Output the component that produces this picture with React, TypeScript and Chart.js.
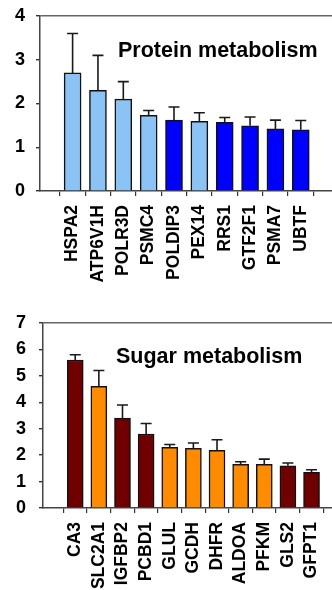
import React, { useEffect, useRef } from "react";
import { Chart, registerables } from "chart.js";

Chart.register(...registerables);

// ---------- Data ----------
const proteinGenes = ["HSPA2", "ATP6V1H", "POLR3D", "PSMC4", "POLDIP3", "PEX14", "RRS1", "GTF2F1", "PSMA7", "UBTF"];
const proteinValues = [2.7, 2.3, 2.1, 1.73, 1.62, 1.59, 1.57, 1.49, 1.42, 1.4];
const proteinErrors = [0.9, 0.8, 0.4, 0.11, 0.3, 0.2, 0.11, 0.2, 0.2, 0.21];
const proteinGroup = [0, 0, 0, 0, 1, 0, 1, 1, 1, 1];
const proteinYMax = 4;

const sugarGenes = ["CA3", "SLC2A1", "IGFBP2", "PCBD1", "GLUL", "GCDH", "DHFR", "ALDOA", "PFKM", "GLS2", "GFPT1"];
const sugarValues = [5.6, 4.6, 3.4, 2.8, 2.3, 2.26, 2.18, 1.65, 1.65, 1.6, 1.35];
const sugarErrors = [0.2, 0.6, 0.5, 0.4, 0.1, 0.2, 0.4, 0.1, 0.2, 0.1, 0.1];
const sugarGroup = [1, 0, 1, 1, 0, 0, 0, 0, 0, 1, 1];
const sugarYMax = 7;

const FONT = "'Liberation Sans', Arial, Helvetica, sans-serif";

const errorBarPlugin = {
  id: "errorBars",
  afterDatasetsDraw(chart: any, _args: any, opts: any) {
    const { ctx } = chart;
    const meta = chart.getDatasetMeta(0);
    const yScale = chart.scales.y;
    const errs: number[] = opts.errors || [];
    const cap: number = opts.cap || 5;
    ctx.save();
    ctx.strokeStyle = "#1a1a1a";
    ctx.lineWidth = 1.6;
    meta.data.forEach((el: any, i: number) => {
      const v = chart.data.datasets[0].data[i].y;
      const yTop = yScale.getPixelForValue(v + errs[i]);
      ctx.beginPath();
      ctx.moveTo(el.x, el.y);
      ctx.lineTo(el.x, yTop);
      ctx.moveTo(el.x - cap, yTop);
      ctx.lineTo(el.x + cap, yTop);
      ctx.stroke();
    });
    ctx.restore();
  },
};

type PanelProps = {
  genes: string[];
  values: number[];
  errors: number[];
  group: number[];
  colors: string[];
  yMax: number;
  xMin: number;
  xMax: number;
  yAxisWidth: number;
  padTop: number;
  xAxisHeight: number;
  barThickness: number;
  yTickPadding: number;
  height: number;
  top: number;
  title: string;
  titleLeft: number;
  titleTop: number;
};

function Panel(p: PanelProps) {
  const ref = useRef<HTMLCanvasElement | null>(null);
  useEffect(() => {
    if (!ref.current) return;
    const chart = new Chart(ref.current, {
      type: "bar",
      data: {
        datasets: [
          {
            data: p.values.map((v, i) => ({ x: i, y: v })),
            backgroundColor: p.group.map((g) => p.colors[g]),
            borderColor: "#111",
            borderWidth: 1.5,
            barThickness: p.barThickness,
          } as any,
        ],
      },
      options: {
        animation: false,
        responsive: false,
        devicePixelRatio: 1,
        layout: { padding: { top: p.padTop, left: 0, right: 0, bottom: 0 } },
        plugins: {
          legend: { display: false },
          tooltip: { enabled: false },
          title: { display: false },
          errorBars: { errors: p.errors, cap: 5.5 },
        } as any,
        scales: {
          x: {
            type: "linear",
            min: p.xMin,
            max: p.xMax,
            afterFit: (s: any) => {
              s.height = p.xAxisHeight;
              s.paddingLeft = 0;
              s.paddingRight = 0;
            },
            border: { color: "#444", width: 1.5 },
            grid: { drawOnChartArea: false, tickLength: 5, tickColor: "#333", lineWidth: 1.2 },
            ticks: {
              stepSize: 1,
              includeBounds: false,
              autoSkip: false,
              minRotation: 90,
              maxRotation: 90,
              padding: 9,
              color: "#000",
              font: { family: FONT, size: 17.5, weight: "bold" },
              callback: (v: any) => p.genes[Number(v)] ?? "",
            },
          } as any,
          y: {
            min: 0,
            max: p.yMax,
            afterFit: (s: any) => {
              s.width = p.yAxisWidth;
              s.paddingTop = 0;
              s.paddingBottom = 0;
            },
            border: { color: "#444", width: 1.5 },
            grid: {
              color: (c: any) => (c.tick && c.tick.value === p.yMax ? "#666" : "rgba(0,0,0,0)"),
              lineWidth: 1.4,
              tickLength: 4,
              tickColor: "#333",
            },
            ticks: {
              stepSize: 1,
              padding: p.yTickPadding,
              color: "#000",
              font: { family: FONT, size: 18, weight: "bold" },
            },
          } as any,
        },
      },
      plugins: [errorBarPlugin as any],
    });
    return () => chart.destroy();
  }, []);
  return (
    <div style={{ position: "absolute", left: 0, top: p.top, width: 332, height: p.height }}>
      <canvas ref={ref} width={332} height={p.height} style={{ display: "block", width: 332, height: p.height }} />
      <div
        style={{
          position: "absolute",
          left: p.titleLeft,
          top: p.titleTop,
          fontFamily: FONT,
          fontWeight: "bold",
          fontSize: 21.5,
          lineHeight: "21px",
          color: "#000",
          whiteSpace: "nowrap",
        }}
      >
        {p.title}
      </div>
    </div>
  );
}

export default function App() {
  return (
    <div style={{ position: "absolute", left: 0, top: 0, width: 332, height: 590, background: "#fff", overflow: "hidden" }}>
      <Panel
        genes={proteinGenes}
        values={proteinValues}
        errors={proteinErrors}
        group={proteinGroup}
        colors={["#8cc3f5", "#0000ff"]}
        yMax={proteinYMax}
        xMin={-0.71}
        xMax={9.656}
        yAxisWidth={40}
        padTop={16}
        xAxisHeight={104}
        barThickness={17}
        yTickPadding={11}
        height={295}
        top={0}
        title="Protein metabolism"
        titleLeft={118}
        titleTop={40}
      />
      <Panel
        genes={sugarGenes}
        values={sugarValues}
        errors={sugarErrors}
        group={sugarGroup}
        colors={["#ff8c00", "#700000"]}
        yMax={sugarYMax}
        xMin={-0.808}
        xMax={10.31}
        yAxisWidth={43}
        padTop={28}
        xAxisHeight={82}
        barThickness={16}
        yTickPadding={13}
        height={295}
        top={295}
        title="Sugar metabolism"
        titleLeft={116}
        titleTop={51}
      />
    </div>
  );
}
